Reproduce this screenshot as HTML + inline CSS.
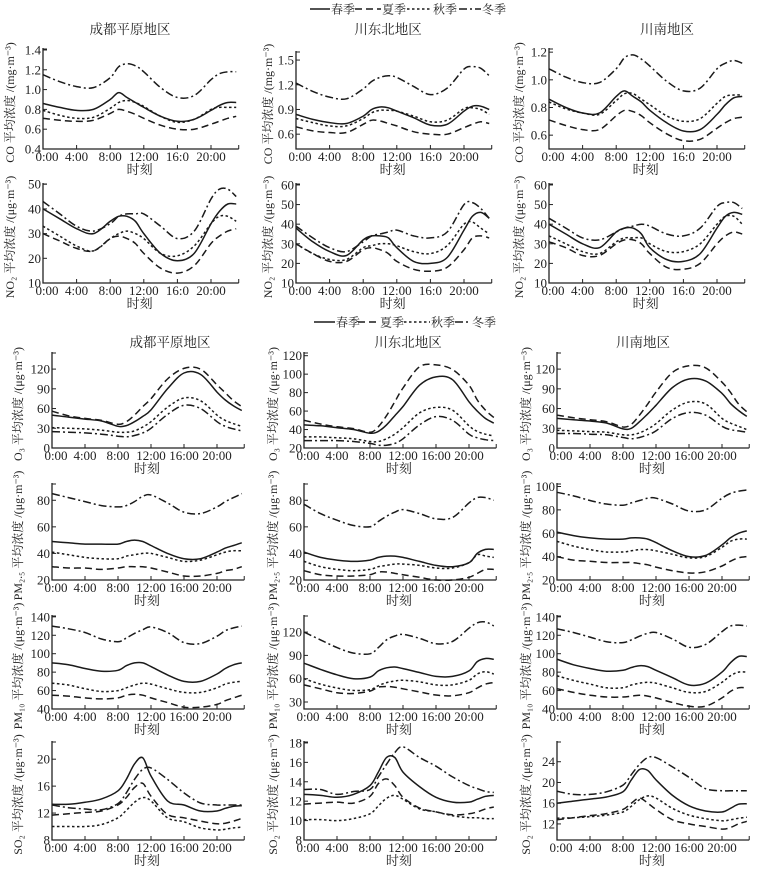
<!DOCTYPE html>
<html><head><meta charset="utf-8">
<style>
html,body{margin:0;padding:0;background:#fff;}
svg{display:block;font-family:"Liberation Serif","Noto Serif CJK SC",serif;}
</style></head>
<body>
<svg id="chart" width="759" height="874" viewBox="0 0 759 874" xmlns="http://www.w3.org/2000/svg"></svg>
<script>
const hours = [0,2,4,6,8,9,10,11,12,14,16,18,20,21,22,23];
const seasons = ["春季","夏季","秋季","冬季"];
const xTickHours = [0,4,8,12,16,20];
const xTickLabelsTop = ["0:00","4:00","8:00","12:00","16:0","20:00"];
const xTickLabelsBottom = ["0:00","4:00","8:00","12:00","16:00","20:00"];
const regions = ["成都平原地区","川东北地区","川南地区"];

// CO
const coCdSpring=[0.86,0.82,0.79,0.80,0.90,0.97,0.92,0.87,0.82,0.73,0.68,0.70,0.79,0.84,0.87,0.87];
const coCdSummer=[0.71,0.69,0.68,0.69,0.76,0.80,0.78,0.75,0.71,0.64,0.60,0.60,0.65,0.68,0.71,0.73];
const coCdAutumn=[0.79,0.74,0.71,0.72,0.81,0.87,0.89,0.87,0.83,0.73,0.67,0.70,0.80,0.82,0.82,0.82];
const coCdWinter=[1.15,1.08,1.03,1.02,1.12,1.23,1.26,1.24,1.18,1.02,0.92,0.94,1.10,1.16,1.18,1.18];
const coNeSpring=[0.84,0.78,0.74,0.73,0.82,0.90,0.93,0.92,0.88,0.80,0.71,0.72,0.88,0.94,0.94,0.90];
const coNeSummer=[0.69,0.64,0.62,0.62,0.72,0.77,0.76,0.73,0.70,0.63,0.60,0.60,0.68,0.72,0.75,0.73];
const coNeAutumn=[0.79,0.74,0.70,0.70,0.79,0.86,0.89,0.89,0.88,0.82,0.75,0.77,0.91,0.92,0.90,0.84];
const coNeWinter=[1.22,1.12,1.05,1.03,1.15,1.24,1.29,1.31,1.29,1.18,1.08,1.16,1.39,1.42,1.40,1.31];
const coSSpring=[0.86,0.80,0.76,0.76,0.88,0.92,0.88,0.84,0.78,0.69,0.63,0.64,0.75,0.82,0.87,0.88];
const coSSummer=[0.71,0.67,0.64,0.64,0.74,0.78,0.77,0.74,0.69,0.61,0.56,0.57,0.65,0.69,0.72,0.73];
const coSAutumn=[0.84,0.79,0.76,0.75,0.85,0.90,0.90,0.86,0.82,0.74,0.70,0.72,0.83,0.88,0.89,0.89];
const coSWinter=[1.08,1.02,0.98,0.98,1.08,1.16,1.18,1.15,1.10,0.99,0.92,0.94,1.08,1.12,1.14,1.12];
// NO2
const no2CdSpring=[40,36,32,30,35,37,37,35,30,22,19,22,34,39,42,42];
const no2CdSummer=[30,27,24,23,28,29,28,26,22,16,14,17,26,29,31,32];
const no2CdAutumn=[33,29,25,23,28,30,31,30,28,22,21,25,34,37,37,35];
const no2CdWinter=[43,38,33,31,34,37,38,38,38,33,28,31,44,48,48,45];
const no2NeSpring=[38,31,26,24,32,34,34,33,28,21,20,23,37,44,46,43];
const no2NeSummer=[30,25,21,21,27,28,27,25,21,17,16,18,27,33,34,33];
const no2NeAutumn=[30,25,22,22,28,29,30,30,29,26,25,29,40,41,38,35];
const no2NeWinter=[39,33,28,26,31,34,35,36,37,34,33,36,50,51,48,43];
const no2SSpring=[40,35,30,28,36,38,38,35,28,22,21,25,38,44,46,45];
const no2SSummer=[31,28,24,24,30,32,32,30,25,18,17,20,30,34,36,35];
const no2SAutumn=[34,30,26,25,31,33,33,33,30,26,26,30,40,44,44,40];
const no2SWinter=[43,38,33,32,36,38,39,40,39,35,34,38,49,51,51,48];
// O3
const o3CdSpring=[50,47,44,41,33,34,40,48,58,90,114,112,85,73,64,57];
const o3CdSummer=[56,49,45,42,36,40,50,63,75,105,121,120,96,84,72,63];
const o3CdAutumn=[31,30,29,27,24,24,26,32,40,62,76,72,50,42,37,33];
const o3CdWinter=[25,24,23,21,18,17,19,23,30,51,65,60,40,33,29,26];
const o3NeSpring=[45,44,42,40,36,38,45,55,65,88,97,94,70,60,52,47];
const o3NeSummer=[50,46,43,41,37,43,55,70,85,108,110,105,88,72,61,53];
const o3NeAutumn=[32,32,31,30,27,27,30,35,42,58,64,61,44,38,35,33];
const o3NeWinter=[28,28,28,27,25,23,23,25,30,45,54,50,35,31,29,28];
const o3SSpring=[45,43,41,38,29,30,40,52,65,92,105,102,83,68,57,48];
const o3SSummer=[50,46,43,40,32,36,50,67,85,115,125,122,100,85,67,55];
const o3SAutumn=[27,26,25,24,20,20,23,29,37,58,70,67,45,38,33,28];
const o3SWinter=[22,22,21,20,16,14,16,20,26,45,54,50,33,28,26,24];
// PM2.5
const pm25CdSpring=[49,48,47,47,47,49,50,49,46,40,36,36,41,44,46,48];
const pm25CdSummer=[30,29,29,28,29,30,30,30,29,26,23,23,25,27,28,30];
const pm25CdAutumn=[41,39,37,36,36,38,39,40,40,37,34,35,39,41,42,42];
const pm25CdWinter=[85,82,79,76,75,76,79,83,84,78,71,70,75,79,82,85];
const pm25NeSpring=[41,37,35,34,35,37,38,38,37,34,31,30,33,40,43,43];
const pm25NeSummer=[27,24,23,23,24,26,26,25,24,22,20,20,22,25,28,28];
const pm25NeAutumn=[34,30,28,27,28,30,31,32,32,31,29,29,33,39,38,37];
const pm25NeWinter=[77,70,65,61,60,64,68,71,73,70,66,67,78,82,82,80];
const pm25SSpring=[61,58,56,55,55,56,56,55,52,45,40,41,50,56,60,62];
const pm25SSummer=[40,37,36,35,35,35,34,33,31,28,26,27,32,36,39,40];
const pm25SAutumn=[53,49,46,44,44,45,46,46,45,42,39,40,48,53,55,55];
const pm25SWinter=[95,92,88,85,84,86,88,90,90,85,79,80,90,94,96,97];
// PM10
const pm10CdSpring=[90,88,84,81,82,87,90,90,86,77,70,70,78,84,88,90];
const pm10CdSummer=[55,54,52,51,52,55,56,55,52,47,42,42,45,49,52,55];
const pm10CdAutumn=[68,66,62,59,60,63,66,68,67,62,58,58,63,67,69,70];
const pm10CdWinter=[130,127,123,116,113,117,122,126,129,123,112,111,119,125,128,130];
const pm10NeSpring=[80,72,65,60,62,70,74,75,73,68,63,63,70,82,86,85];
const pm10NeSummer=[52,47,42,41,44,49,50,49,47,43,39,38,42,48,53,55];
const pm10NeAutumn=[60,53,48,45,46,51,55,57,58,56,52,52,58,66,69,66];
const pm10NeWinter=[120,110,100,93,92,100,110,115,117,112,105,108,125,132,133,128];
const pm10SSpring=[94,88,84,81,82,85,87,86,82,74,66,68,80,90,97,97];
const pm10SSummer=[62,58,55,53,53,54,55,54,52,47,43,43,52,59,63,63];
const pm10SAutumn=[76,71,67,63,63,66,68,69,68,63,58,59,69,76,80,80];
const pm10SWinter=[127,123,118,113,112,115,119,122,123,116,107,110,124,130,131,130];
// SO2
const so2CdSpring=[13.3,13.3,13.6,14.1,15.3,17,19.3,20.2,17.5,13.8,13.2,12.3,12.3,12.7,13.0,13.1];
const so2CdSummer=[11.7,11.9,12.1,12.3,13.2,14.3,15.8,16.4,14.5,11.8,11.3,10.8,10.4,10.5,10.8,11.2];
const so2CdAutumn=[10,10,10,10.3,11.3,12.4,13.6,14.3,13.8,11.3,10.7,9.8,9.5,9.6,9.8,9.9];
const so2CdWinter=[13.2,12.8,12.6,12.5,13.4,15,17,18.5,18.7,17,15,13.5,13.2,13.2,13.2,13.2];
const so2NeSpring=[12.7,12.6,12.4,12.7,13.6,15,16.5,16.5,15,13.5,12.4,11.9,11.9,12.2,12.5,12.6];
const so2NeSummer=[11.7,11.8,11.9,11.8,12.5,13.8,14.3,13.6,12.4,11.3,10.9,10.6,10.7,10.9,11.2,11.4];
const so2NeAutumn=[10.1,10.1,10.0,10.2,10.7,11.5,12.3,12.6,12.2,11.2,10.9,10.5,10.3,10.3,10.2,10.2];
const so2NeWinter=[13.2,13.2,12.7,13.0,13.2,14.5,15.8,17,17.6,16.5,15.6,14.5,13.6,13.3,13.0,12.9];
const so2SSpring=[16,16.4,16.8,17.2,18.2,20.5,22.5,22.3,20.5,17.5,15.5,14.5,14.3,15,15.8,15.9];
const so2SSummer=[12.8,13.2,13.6,14.0,14.8,16,17.0,16,14.8,12.8,12,11.5,11,11.3,12,12.5];
const so2SAutumn=[13.1,13.2,13.4,13.7,14.3,15.4,16.7,17.4,17,15,13.7,13,12.6,12.8,13.1,13.3];
const so2SWinter=[18.3,17.7,17.7,18.2,19.5,21.5,23.5,24.8,24.8,23,21,18.8,18.4,18.4,18.4,18.4];

// y ticks
const coCdTicks=[0.4,0.6,0.8,1.0,1.2,1.4];
const coNeTicks=[0.6,0.9,1.2,1.5];
const coSTicks=[0.6,0.8,1.0,1.2];
const no2CdTicks=[10,20,30,40,50];
const no2Ticks=[10,20,30,40,50,60];
const o3Ticks30=[0,30,60,90,120];
const o3NeTicks=[20,40,60,80,100,120];
const pm25Ticks=[20,40,60,80];
const pm25STicks=[20,40,60,80,100];
const pm10Ticks=[40,60,80,100,120,140];
const pm10NeTicks=[30,60,90,120];
const so2CdTicks=[8,12,16,20];
const so2NeTicks=[8,10,12,14,16,18];
const so2STicks=[12,16,20,24];

const NS="http://www.w3.org/2000/svg";
const svg=document.getElementById("chart");
const dashes=["none","7,4","2.5,2.5","8,3,2,3"];
function mk(tag,attrs,parent){const e=document.createElementNS(NS,tag);for(const k in attrs)e.setAttribute(k,attrs[k]);(parent||svg).appendChild(e);return e;}

function smoothPath(pts){
  let d="M"+pts[0][0].toFixed(1)+","+pts[0][1].toFixed(1);
  for(let i=0;i<pts.length-1;i++){
    const p0=pts[Math.max(0,i-1)],p1=pts[i],p2=pts[i+1],p3=pts[Math.min(pts.length-1,i+2)];
    const c1x=p1[0]+(p2[0]-p0[0])/6,c1y=p1[1]+(p2[1]-p0[1])/6;
    const c2x=p2[0]-(p3[0]-p1[0])/6,c2y=p2[1]-(p3[1]-p1[1])/6;
    d+=" C"+c1x.toFixed(1)+","+c1y.toFixed(1)+" "+c2x.toFixed(1)+","+c2y.toFixed(1)+" "+p2[0].toFixed(1)+","+p2[1].toFixed(1);
  }
  return d;
}

function panel(cfg){
  const g=mk("g",{});
  
  
  const xEnd=23.3;
  const sx=h=>cfg.x0+h*cfg.pph;
  const sy=v=>cfg.bottom-(v-cfg.ymin)/(cfg.ymax-cfg.ymin)*(cfg.bottom-cfg.top);
  const ax=mk("path",{d:"M"+cfg.x0+","+cfg.top+" L"+cfg.x0+","+cfg.bottom+" L"+sx(xEnd)+","+cfg.bottom,fill:"none",stroke:"#222","stroke-width":1.3},g);
  
  
  cfg.yticks.forEach(v=>{
    const y=sy(v);
    mk("line",{x1:cfg.x0,x2:cfg.x0+4,y1:y,y2:y,stroke:"#222","stroke-width":1},g);
    const t=mk("text",{x:cfg.x0-2,y:y+4.5,"font-size":13,"text-anchor":"end",fill:"#222"},g);
    t.textContent=cfg.fmt?cfg.fmt(v):String(v);
    
    
  });
  mk("line",{x1:cfg.x0,x2:cfg.x0+4,y1:cfg.top+1,y2:cfg.top+1,stroke:"#222","stroke-width":1},g);
  xTickHours.forEach((h,i)=>{
    const x=sx(h);
    mk("line",{x1:x,x2:x,y1:cfg.bottom,y2:cfg.bottom-4,stroke:"#222","stroke-width":1},g);
    const t=mk("text",{x:x+(i===0?4:0),y:cfg.bottom+12,"font-size":13,"text-anchor":"middle",fill:"#222"},g);
    t.textContent=cfg.xlabels[i];
    
    
  });
  mk("line",{x1:sx(xEnd),x2:sx(xEnd),y1:cfg.bottom,y2:cfg.bottom-4,stroke:"#222","stroke-width":1},g);
  const xt=mk("text",{x:sx(11.5),y:cfg.bottom+25,"font-size":13,"text-anchor":"middle",fill:"#222"},g);
  xt.textContent="时刻";
  
  
  const cy=(cfg.top+cfg.bottom)/2+4;
  const yt=mk("text",{x:0,y:0,"font-size":12,"text-anchor":"middle",fill:"#222",transform:"translate("+cfg.ylx+","+cy+") rotate(-90)"},g);
  yt.textContent=cfg.ylabel;
  
  
  cfg.series.forEach((arr,si)=>{
    const pts=arr.map((v,i)=>[sx(hours[i]),sy(v)]);
    const p=mk("path",{d:smoothPath(pts),fill:"none",stroke:"#1a1a1a","stroke-width":1.5,"stroke-dasharray":dashes[si]},g);
    
    
  });
}

function legend(x,y,segs){
  const g=mk("g",{});
  
  
  segs.forEach((s,i)=>{
    mk("line",{x1:s[0],x2:s[1],y1:y,y2:y,stroke:"#1a1a1a","stroke-width":1.5,"stroke-dasharray":dashes[i]},g);
    const t=mk("text",{x:s[1]+1,y:y+4.5,"font-size":12,fill:"#222"},g);
    t.textContent=seasons[i];
    
    
  });
}
legend(0,9,[[310,330],[355,381],[407,432],[459,481]]);
legend(0,322,[[314,335],[358,379],[404,430],[455,471]]);

function title(x,y,txt){
  const t=mk("text",{x:x,y:y,"font-size":13.5,"text-anchor":"middle",fill:"#222"});
  t.textContent=txt;
  
  
}
title(130,34,regions[0]);title(388,34,regions[1]);title(667,34,regions[2]);
title(170,347,regions[0]);title(408,347,regions[1]);title(643,347,regions[2]);

const f1=v=>v.toFixed(1);
const c1=[43,296,549], c2=[52,304,557];
const lx1=[14,272,523], lx2=[22,277,530];
const ppH1=8.4, ppH2=8.25;
const coL="CO 平均浓度 /(mg·m⁻³)", no2L="NO₂ 平均浓度 /(μg·m⁻³)", o3L="O₃ 平均浓度 /(μg·m⁻³)",
      pm25L="PM₂.₅ 平均浓度 /(μg·m⁻³)", pm10L="PM₁₀ 平均浓度 /(μg·m⁻³)", so2L="SO₂ 平均浓度 /(μg·m⁻³)";

panel({name:"co-chengdu",x0:c1[0],pph:ppH1,top:48,bottom:149,ymin:0.4,ymax:1.42,yticks:coCdTicks,fmt:f1,xlabels:xTickLabelsTop,ylx:lx1[0],ylabel:coL,series:[coCdSpring,coCdSummer,coCdAutumn,coCdWinter]});
panel({name:"co-northeast",x0:c1[1],pph:ppH1,top:51,bottom:149,ymin:0.42,ymax:1.61,yticks:coNeTicks,fmt:f1,xlabels:xTickLabelsTop,ylx:lx1[1],ylabel:coL,series:[coNeSpring,coNeSummer,coNeAutumn,coNeWinter]});
panel({name:"co-south",x0:c1[2],pph:ppH1,top:48,bottom:149,ymin:0.5,ymax:1.23,yticks:coSTicks,fmt:f1,xlabels:xTickLabelsTop,ylx:lx1[2],ylabel:coL,series:[coSSpring,coSSummer,coSAutumn,coSWinter]});
panel({name:"no2-chengdu",x0:c1[0],pph:ppH1,top:183,bottom:283,ymin:10,ymax:50.5,yticks:no2CdTicks,xlabels:xTickLabelsTop,ylx:lx1[0],ylabel:no2L,series:[no2CdSpring,no2CdSummer,no2CdAutumn,no2CdWinter]});
panel({name:"no2-northeast",x0:c1[1],pph:ppH1,top:183,bottom:283,ymin:10,ymax:61,yticks:no2Ticks,xlabels:xTickLabelsTop,ylx:lx1[1],ylabel:no2L,series:[no2NeSpring,no2NeSummer,no2NeAutumn,no2NeWinter]});
panel({name:"no2-south",x0:c1[2],pph:ppH1,top:183,bottom:283,ymin:10,ymax:61,yticks:no2Ticks,xlabels:xTickLabelsTop,ylx:lx1[2],ylabel:no2L,series:[no2SSpring,no2SSummer,no2SAutumn,no2SWinter]});

panel({name:"o3-chengdu",x0:c2[0],pph:ppH2,top:352,bottom:448,ymin:0,ymax:146,yticks:o3Ticks30,xlabels:xTickLabelsBottom,ylx:lx2[0],ylabel:o3L,series:[o3CdSpring,o3CdSummer,o3CdAutumn,o3CdWinter]});
panel({name:"o3-northeast",x0:c2[1],pph:ppH2,top:352,bottom:448,ymin:20,ymax:124,yticks:o3NeTicks,xlabels:xTickLabelsBottom,ylx:lx2[1],ylabel:o3L,series:[o3NeSpring,o3NeSummer,o3NeAutumn,o3NeWinter]});
panel({name:"o3-south",x0:c2[2],pph:ppH2,top:352,bottom:448,ymin:0,ymax:146,yticks:o3Ticks30,xlabels:xTickLabelsBottom,ylx:lx2[2],ylabel:o3L,series:[o3SSpring,o3SSummer,o3SAutumn,o3SWinter]});
panel({name:"pm25-chengdu",x0:c2[0],pph:ppH2,top:483,bottom:580,ymin:20,ymax:93,yticks:pm25Ticks,xlabels:xTickLabelsBottom,ylx:lx2[0],ylabel:pm25L,series:[pm25CdSpring,pm25CdSummer,pm25CdAutumn,pm25CdWinter]});
panel({name:"pm25-northeast",x0:c2[1],pph:ppH2,top:483,bottom:580,ymin:20,ymax:93,yticks:pm25Ticks,xlabels:xTickLabelsBottom,ylx:lx2[1],ylabel:pm25L,series:[pm25NeSpring,pm25NeSummer,pm25NeAutumn,pm25NeWinter]});
panel({name:"pm25-south",x0:c2[2],pph:ppH2,top:483,bottom:580,ymin:20,ymax:103,yticks:pm25STicks,xlabels:xTickLabelsBottom,ylx:lx2[2],ylabel:pm25L,series:[pm25SSpring,pm25SSummer,pm25SAutumn,pm25SWinter]});
panel({name:"pm10-chengdu",x0:c2[0],pph:ppH2,top:615,bottom:709,ymin:40,ymax:142,yticks:pm10Ticks,xlabels:xTickLabelsBottom,ylx:lx2[0],ylabel:pm10L,series:[pm10CdSpring,pm10CdSummer,pm10CdAutumn,pm10CdWinter]});
panel({name:"pm10-northeast",x0:c2[1],pph:ppH2,top:615,bottom:709,ymin:21,ymax:142,yticks:pm10NeTicks,xlabels:xTickLabelsBottom,ylx:lx2[1],ylabel:pm10L,series:[pm10NeSpring,pm10NeSummer,pm10NeAutumn,pm10NeWinter]});
panel({name:"pm10-south",x0:c2[2],pph:ppH2,top:615,bottom:709,ymin:40,ymax:142,yticks:pm10Ticks,xlabels:xTickLabelsBottom,ylx:lx2[2],ylabel:pm10L,series:[pm10SSpring,pm10SSummer,pm10SAutumn,pm10SWinter]});
panel({name:"so2-chengdu",x0:c2[0],pph:ppH2,top:741,bottom:840,ymin:8,ymax:22.7,yticks:so2CdTicks,xlabels:xTickLabelsBottom,ylx:lx2[0],ylabel:so2L,series:[so2CdSpring,so2CdSummer,so2CdAutumn,so2CdWinter]});
panel({name:"so2-northeast",x0:c2[1],pph:ppH2,top:741,bottom:840,ymin:8,ymax:18.2,yticks:so2NeTicks,xlabels:xTickLabelsBottom,ylx:lx2[1],ylabel:so2L,series:[so2NeSpring,so2NeSummer,so2NeAutumn,so2NeWinter]});
panel({name:"so2-south",x0:c2[2],pph:ppH2,top:741,bottom:840,ymin:8.9,ymax:28,yticks:so2STicks,xlabels:xTickLabelsBottom,ylx:lx2[2],ylabel:so2L,series:[so2SSpring,so2SSummer,so2SAutumn,so2SWinter]});
</script>
</body></html>
